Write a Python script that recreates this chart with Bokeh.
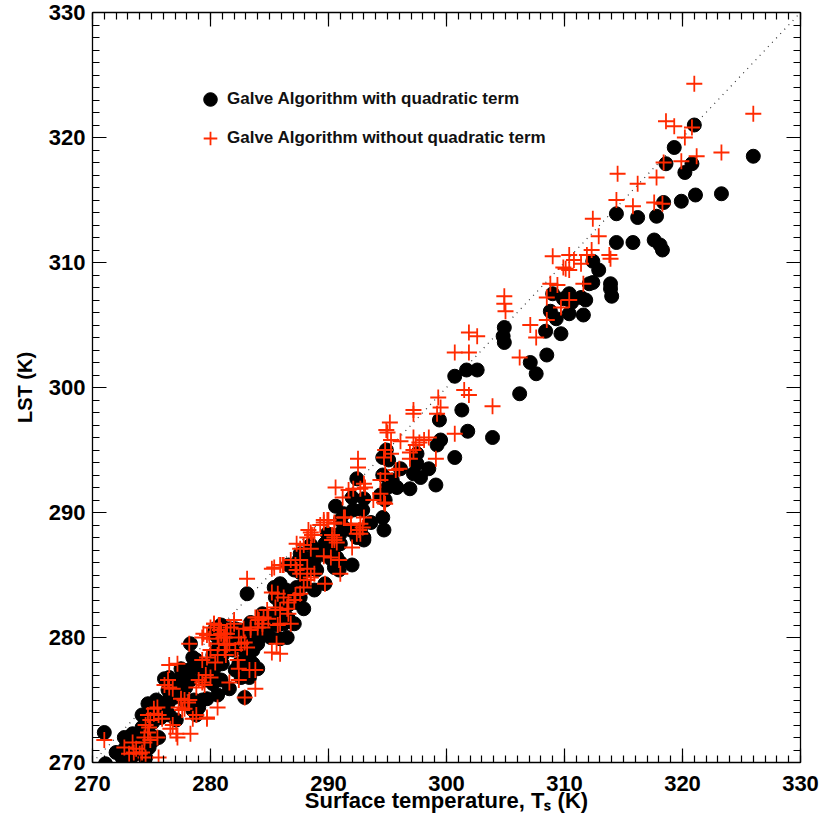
from bokeh.plotting import figure
from bokeh.models import (Legend, LegendItem, LinearAxis, FixedTicker,
                          Range1d, ColumnDataSource)
from bokeh.embed import file_html
from bokeh.resources import INLINE

# ---------------- data ----------------
x_ticks = [270, 280, 290, 300, 310, 320, 330]
y_ticks = [270, 280, 290, 300, 310, 320, 330]
x_title = "Surface temperature, T\u209b (K)"
y_title = "LST (K)"
label_quad = "Galve Algorithm with quadratic term"
label_noquad = "Galve Algorithm without quadratic term"

# (Ts, LST) with quadratic term
quad_points = [
    (321.0, 321.0), (319.3, 319.2), (318.6, 317.9), (320.8, 317.9), (320.2, 317.2), (326.0, 318.5),
    (323.3, 315.5), (321.1, 315.4), (319.9, 314.9), (318.4, 314.8), (314.4, 313.9), (316.2, 313.6),
    (317.8, 313.7), (314.4, 311.6), (315.8, 311.6), (317.6, 311.8), (318.1, 311.4), (318.3, 311.0),
    (312.4, 310.1), (312.9, 309.4), (312.4, 308.4), (312.1, 308.3), (313.9, 308.3), (313.9, 307.9),
    (314.0, 307.3), (309.0, 307.5), (310.4, 307.5), (309.9, 307.1), (310.6, 306.8), (311.4, 307.2),
    (311.8, 307.0), (310.4, 305.9), (311.6, 305.8), (308.8, 306.1), (309.3, 305.5), (308.4, 304.5),
    (309.7, 304.3), (304.9, 304.8), (304.8, 304.1), (304.9, 303.6), (308.5, 302.6), (307.1, 302.0),
    (307.6, 301.1), (306.2, 299.5), (300.7, 300.9), (301.7, 301.4), (302.6, 301.4), (301.3, 298.2),
    (301.8, 296.5), (303.9, 296.0),
    (299.4, 297.4), (299.5, 295.8), (299.2, 295.4), (300.7, 294.4), (294.9, 295.0), (294.6, 294.4),
    (295.1, 294.2), (297.5, 294.7), (297.5, 293.9), (296.1, 293.5), (298.5, 293.5), (297.2, 293.1),
    (297.8, 292.8), (294.6, 293.0), (292.4, 292.7), (299.1, 292.2), (295.4, 292.6), (295.8, 292.0),
    (295.0, 292.0), (296.9, 291.9), (292.0, 291.2), (293.0, 291.1), (294.4, 291.4), (294.8, 291.0),
    (290.6, 290.5), (291.3, 289.9), (292.1, 290.2), (292.9, 290.2), (293.6, 289.2), (294.6, 289.6),
    (294.7, 288.6), (291.3, 288.8), (291.9, 288.6), (290.3, 288.0), (291.0, 288.3), (293.0, 288.0),
    (292.7, 288.6),
    (291.0, 289.4), (289.9, 288.3), (290.3, 288.2), (291.0, 287.5), (290.5, 287.2), (292.4, 288.0),
    (293.0, 287.8), (289.7, 287.5), (289.7, 286.6), (290.2, 286.3), (290.7, 286.4), (291.0, 286.0),
    (290.5, 285.6), (290.9, 285.4), (292.0, 285.8), (288.5, 287.4), (289.0, 287.0), (287.6, 286.7),
    (287.5, 286.2), (288.2, 286.3), (288.8, 286.2), (286.6, 285.8), (287.1, 285.4), (287.6, 285.2),
    (288.2, 285.4), (288.8, 285.6), (289.0, 285.4), (289.7, 284.3), (288.8, 283.8), (285.9, 284.3),
    (285.4, 284.0), (286.4, 283.8), (287.3, 284.0), (287.9, 284.2), (283.1, 283.5), (285.5, 283.2),
    (286.2, 283.0), (286.8, 283.1), (285.9, 282.7), (286.6, 282.6), (287.3, 282.8), (287.6, 283.2),
    (287.9, 282.3), (284.4, 281.9), (285.0, 281.6), (285.5, 281.9), (286.1, 281.6), (286.6, 281.5),
    (287.1, 281.1), (286.2, 281.1), (285.7, 281.0), (284.9, 280.8), (283.4, 281.2), (284.0, 280.8),
    (282.5, 280.6), (282.0, 280.3), (283.1, 280.3), (283.7, 280.2), (280.3, 280.3), (280.8, 280.0),
    (281.4, 279.9), (284.2, 280.0), (285.1, 280.0), (285.9, 279.9), (286.5, 280.0),
    (271.0, 272.4), (271.1, 269.9), (272.0, 270.8), (272.7, 272.0), (273.4, 272.3), (272.8, 271.2),
    (273.5, 271.4), (273.7, 270.7), (273.0, 270.4), (272.5, 270.4), (273.2, 270.2), (274.2, 272.8),
    (274.4, 272.4), (274.0, 272.2), (274.5, 272.0), (274.9, 272.2), (275.2, 271.8), (274.2, 271.5),
    (274.8, 271.2), (274.2, 270.7), (274.5, 270.4), (275.6, 272.0), (274.5, 273.5), (274.9, 273.9),
    (274.2, 273.8), (274.7, 274.7), (275.4, 275.0), (275.6, 274.3), (275.1, 273.2), (276.1, 274.3),
    (276.5, 273.8), (275.8, 273.6), (276.4, 274.7), (276.5, 275.1), (277.1, 273.4), (276.4, 275.8),
    (277.3, 275.5), (276.9, 275.2), (276.1, 276.7), (276.5, 276.8), (277.3, 276.4), (277.8, 276.7),
    (277.9, 276.0), (278.3, 276.6), (278.2, 277.4), (278.6, 275.0), (277.9, 274.8), (278.5, 274.2),
    (279.0, 274.4), (279.3, 275.0), (279.7, 275.1), (278.8, 273.8), (278.5, 277.6), (278.8, 278.2),
    (279.3, 277.8), (279.6, 277.4), (278.3, 279.5), (278.5, 278.4), (277.5, 277.5), (277.6, 277.0),
    (279.6, 276.6), (279.9, 276.8), (280.0, 277.4), (279.3, 277.0), (280.6, 275.4), (280.2, 276.3),
    (280.4, 276.8), (280.9, 276.6), (280.2, 277.6), (280.6, 277.8), (281.0, 277.9), (280.2, 278.6),
    (280.6, 279.0), (281.0, 278.6), (280.7, 279.5), (280.3, 280.3), (280.4, 280.7), (280.9, 281.0),
    (281.2, 280.3), (281.9, 280.0), (281.6, 280.7), (281.6, 275.9), (282.9, 275.2), (282.1, 277.4),
    (282.6, 276.8), (283.0, 277.6), (283.3, 278.2), (282.4, 277.9), (281.9, 279.0), (282.4, 279.2),
    (283.0, 278.7), (283.6, 279.0), (284.0, 279.5), (282.0, 279.8), (282.6, 280.0), (283.3, 279.9),
    (284.1, 280.3), (282.9, 280.4), (282.1, 280.7), (283.8, 281.1), (284.3, 281.4), (283.6, 277.9),
    (284.0, 277.5), (283.3, 276.8),
]

# (Ts, LST) without quadratic term
noquad_points = [
    (321.0, 324.3), (326.0, 321.9), (318.6, 321.3), (319.3, 320.9), (320.8, 320.8), (320.2, 320.0),
    (323.3, 318.8), (321.2, 318.5), (319.9, 318.1), (318.4, 318.0), (314.5, 317.1), (316.2, 316.3),
    (317.8, 316.8), (314.4, 315.0), (315.8, 314.5), (317.6, 314.8), (318.3, 314.7), (312.4, 313.5),
    (312.9, 312.1), (313.8, 310.6), (313.9, 310.3), (312.3, 311.0), (311.9, 310.6), (310.4, 310.6),
    (310.8, 310.2), (311.4, 309.9), (309.0, 310.5), (309.9, 309.6), (310.1, 309.5), (310.4, 309.4),
    (311.6, 308.3), (308.8, 308.3), (309.4, 308.2), (308.5, 307.2), (310.4, 307.0), (309.7, 306.4),
    (308.5, 305.4), (307.1, 305.0), (307.6, 304.0), (304.9, 307.3), (304.9, 306.7), (305.0, 306.1),
    (301.9, 304.4), (302.6, 304.1), (300.7, 302.8), (301.9, 302.8), (306.2, 302.4), (301.5, 299.8),
    (301.9, 299.4), (303.9, 298.5), (300.7, 296.3), (299.3, 299.2), (299.5, 298.4), (297.2, 298.2),
    (299.2, 297.9),
    (299.1, 294.3), (297.2, 297.9), (295.2, 297.2), (294.9, 296.6), (295.3, 295.8), (295.0, 296.4),
    (296.1, 295.7), (297.2, 296.0), (297.7, 295.6), (298.1, 295.8), (298.5, 296.0), (297.4, 295.4),
    (296.9, 294.8), (297.2, 295.0), (296.9, 294.3), (294.8, 295.0), (295.3, 294.7), (294.7, 294.4),
    (292.5, 294.3), (292.5, 293.6), (295.7, 293.4), (296.0, 293.5), (294.8, 293.1), (294.4, 292.6),
    (293.0, 292.3), (293.1, 292.0), (292.7, 291.9), (292.1, 291.9), (291.7, 291.8), (290.6, 292.0),
    (291.2, 291.2), (294.4, 291.5), (293.8, 291.0), (294.7, 290.8), (294.8, 290.7), (291.3, 289.6),
    (291.9, 289.0), (293.0, 289.6), (292.9, 288.8), (292.7, 288.3), (289.6, 289.4), (290.0, 289.4),
    (290.5, 289.1), (289.3, 289.0), (290.3, 288.2), (290.5, 287.8), (292.4, 288.3), (288.3, 288.6),
    (288.6, 288.2),
    (291.4, 289.6), (291.9, 289.1), (292.6, 288.6), (292.7, 289.1), (289.6, 289.2), (289.9, 289.4),
    (290.5, 289.2), (288.5, 288.4), (288.2, 288.0), (288.8, 288.2), (290.5, 288.0), (290.7, 287.6),
    (290.3, 287.8), (292.0, 287.2), (287.3, 287.5), (287.6, 287.1), (288.5, 287.1), (287.9, 287.4),
    (289.6, 286.5), (290.2, 286.4), (290.9, 286.2), (291.0, 285.1), (286.8, 286.2), (287.2, 285.8),
    (287.6, 286.2), (286.2, 285.8), (285.9, 285.8), (287.3, 285.4), (287.6, 285.1), (288.2, 285.5),
    (288.5, 284.8), (288.8, 285.1), (288.2, 284.6), (289.7, 284.3), (287.9, 284.0), (287.6, 283.5),
    (287.2, 283.4), (287.1, 283.0), (286.2, 283.2), (286.6, 282.8), (285.4, 285.6), (285.2, 285.5),
    (286.1, 285.8), (283.1, 284.7), (285.7, 283.5), (285.2, 283.6), (285.5, 282.4), (285.9, 282.2),
    (286.6, 281.9), (286.5, 282.3), (284.8, 282.2), (284.5, 281.6), (284.9, 281.5), (284.4, 281.1),
    (283.8, 281.6), (284.0, 280.8), (284.4, 280.8), (285.9, 281.1), (285.7, 281.0), (286.8, 281.1),
    (282.8, 280.7), (283.4, 280.8), (280.3, 281.1), (280.8, 281.0), (280.0, 280.8), (280.8, 280.6),
    (281.7, 280.8), (282.0, 281.1), (281.4, 280.3), (281.1, 280.0), (280.6, 280.2), (279.7, 280.2),
    (279.4, 280.3), (285.6, 279.5), (285.9, 278.7), (285.2, 278.8),
    (271.0, 271.8), (272.7, 271.2), (273.4, 271.6), (273.7, 271.1), (273.1, 270.7), (274.2, 270.8),
    (274.5, 270.4), (273.5, 270.8), (274.0, 270.7), (274.4, 272.0), (274.7, 272.4), (274.9, 271.8),
    (275.5, 272.0), (274.4, 271.6), (274.5, 273.0), (275.6, 270.4), (274.8, 272.8), (274.9, 273.4),
    (274.7, 273.8), (275.2, 273.9), (275.5, 274.4), (275.2, 274.3), (275.9, 273.5), (275.6, 273.8),
    (276.5, 277.8), (277.2, 277.9), (276.6, 272.7), (277.1, 272.3), (277.2, 272.0), (276.8, 273.0),
    (278.3, 272.3), (276.4, 276.6), (276.5, 276.0), (276.8, 275.9), (276.1, 276.2), (277.5, 275.1),
    (277.8, 275.0), (278.1, 274.8), (277.3, 274.4), (277.8, 274.3), (278.2, 275.0), (277.6, 274.2),
    (278.5, 273.5), (278.8, 273.8), (279.7, 273.6), (280.6, 274.4), (279.7, 273.5), (278.2, 279.5),
    (279.0, 276.6), (279.3, 276.4), (279.6, 277.0), (280.0, 276.8), (279.5, 276.2), (278.8, 276.0),
    (279.3, 278.2), (280.4, 278.0), (280.6, 278.6), (279.7, 278.4), (280.0, 279.0), (279.3, 280.0),
    (279.9, 279.9), (280.3, 281.1), (280.7, 281.0), (280.9, 280.3), (281.3, 280.3), (281.2, 280.0),
    (280.7, 279.5), (281.2, 279.0), (281.4, 279.4), (281.3, 278.6), (282.0, 281.4), (282.4, 280.0),
    (282.6, 279.5), (282.9, 279.6), (283.1, 279.2), (281.6, 279.5), (282.1, 279.0), (282.3, 278.2),
    (282.4, 277.5), (283.3, 277.4), (283.8, 277.4), (281.6, 276.4), (282.4, 276.6), (283.8, 275.9),
    (282.9, 275.2), (283.4, 280.6), (284.1, 281.4), (284.0, 281.6),
]

# ---------------- figure ----------------
FONT = "Liberation Sans"
x0, x1 = x_ticks[0], x_ticks[-1]
y0, y1 = y_ticks[0], y_ticks[-1]

p = figure(frame_width=708, frame_height=750, output_backend="svg", toolbar_location=None,
           x_range=Range1d(x0, x1), y_range=Range1d(y0, y1),
           min_border_left=92, min_border_right=21, min_border_top=12, min_border_bottom=59)
p.background_fill_color = "white"
p.border_fill_color = "white"
p.outline_line_color = None
p.xgrid.grid_line_color = None
p.ygrid.grid_line_color = None

minor = list(range(x0, x1 + 1))


def style_axis(ax, show_labels):
    ax.ticker = FixedTicker(ticks=x_ticks, minor_ticks=minor)
    ax.axis_line_color = "black"
    ax.axis_line_width = 1.3
    ax.major_tick_in = 14
    ax.major_tick_out = 0
    ax.minor_tick_in = 7
    ax.minor_tick_out = 0
    ax.major_tick_line_color = "black"
    ax.minor_tick_line_color = "black"
    ax.major_tick_line_width = 1.2
    ax.minor_tick_line_width = 1.2
    ax.major_label_text_font = FONT
    ax.major_label_text_font_style = "bold"
    ax.major_label_text_font_size = "22px"
    ax.major_label_text_color = "black"
    ax.axis_label_text_font = FONT
    ax.axis_label_text_font_style = "bold"
    ax.axis_label_text_font_size = "20px"
    ax.axis_label_text_color = "black"
    if not show_labels:
        ax.major_label_overrides = {t: "" for t in x_ticks}
        ax.axis_label = None


xa = p.xaxis[0]
ya = p.yaxis[0]
style_axis(xa, True)
style_axis(ya, True)
xa.axis_label = x_title
ya.axis_label = y_title
xa.axis_label_text_font_size = "22px"
xa.major_label_standoff = 13
xa.axis_label_standoff = -6
ya.major_label_standoff = 7
ya.axis_label_standoff = 10

top_ax = LinearAxis()
right_ax = LinearAxis()
style_axis(top_ax, False)
style_axis(right_ax, False)
p.add_layout(top_ax, "above")
p.add_layout(right_ax, "right")

# 1:1 dotted line
p.line([x0, x1], [y0, y1], line_color="#333333", line_width=1.2, line_dash="1 5")

qsrc = ColumnDataSource(dict(ts=[a for a, b in quad_points], lst=[b for a, b in quad_points]))
nsrc = ColumnDataSource(dict(ts=[a for a, b in noquad_points], lst=[b for a, b in noquad_points]))

r_q = p.scatter("ts", "lst", source=qsrc, marker="circle", size=14,
                fill_color="black", line_color="black")
r_n = p.scatter("ts", "lst", source=nsrc, marker="cross", size=16,
                line_color="#ff2a00", line_width=1.8)

# legend
legend = Legend(items=[LegendItem(label=label_quad, renderers=[r_q]),
                       LegendItem(label=label_noquad, renderers=[r_n])],
                location=(101, 607), orientation="vertical",
                glyph_width=34, glyph_height=34, label_height=34, spacing=5,
                label_standoff=-4, padding=0, margin=0,
                border_line_alpha=0, background_fill_alpha=0,
                label_text_font=FONT, label_text_font_style="bold",
                label_text_font_size="17px", label_text_color="#111111",
                label_text_baseline="alphabetic")
p.add_layout(legend)

open("out.html", "w").write(file_html(p, INLINE))
